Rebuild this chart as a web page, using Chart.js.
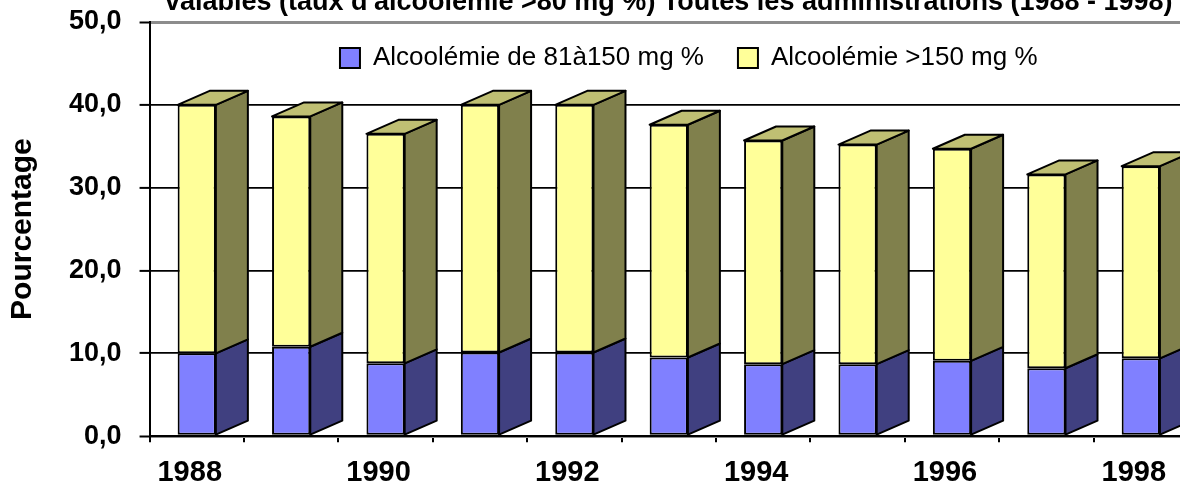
<!DOCTYPE html>
<html lang="fr">
<head>
<meta charset="utf-8">
<title>Alcoolémie 1988 - 1998</title>
<script src="https://cdn.jsdelivr.net/npm/chart.js@4.4.0/dist/chart.umd.min.js"></script>
<style>
  html, body { margin: 0; padding: 0; background: #fff; overflow: hidden; }
  /* the reference is a crop of a bigger chart: top and right run off the page */
  #wrap { position: absolute; left: 0; top: -50px; width: 1382px; height: 553px; }
</style>
</head>
<body>
<div id="wrap"><canvas id="chart"></canvas></div>
<script>
// Données
const annees = ["1988", "1989", "1990", "1991", "1992", "1993", "1994", "1995", "1996", "1997", "1998"];
const taux81a150 = [10.0, 10.8, 8.8, 10.1, 10.1, 9.5, 8.7, 8.7, 9.1, 8.2, 9.4];
const tauxPlus150 = [30.0, 27.8, 27.7, 29.9, 29.9, 28.1, 27.0, 26.5, 25.6, 23.4, 23.2];
const yTicks = [0, 10, 20, 30, 40, 50];
const titre = [
  "Pourcentage de conducteurs mortellement blessés ayant des résultats",
  "valables (taux d'alcoolémie >80 mg %) Toutes les administrations (1988 - 1998)"
];

const police = "'Liberation Sans', Arial, sans-serif";
const profX = 32, profY = 14; // profondeur 3D
const couleursCote = ["#404080", "#80804c"];
const couleurDessus = "#bfbf73";

// faces de côté et de dessus des barres (effet 3D)
const barres3d = {
  id: "barres3d",
  afterDatasetsDraw(chart) {
    const ctx = chart.ctx;
    const n = chart.data.datasets.length;
    ctx.save();
    ctx.lineWidth = 2;
    ctx.strokeStyle = "#000";
    ctx.lineJoin = "round";
    chart.data.datasets.forEach((ds, di) => {
      chart.getDatasetMeta(di).data.forEach(bar => {
        const { x, y, base, width } = bar.getProps(["x", "y", "base", "width"], true);
        const g = x - width / 2, d = x + width / 2;
        ctx.beginPath();
        ctx.moveTo(d, y);
        ctx.lineTo(d + profX, y - profY);
        ctx.lineTo(d + profX, base - profY);
        ctx.lineTo(d, base);
        ctx.closePath();
        ctx.fillStyle = couleursCote[di];
        ctx.fill();
        ctx.stroke();
        if (di === n - 1) {
          ctx.beginPath();
          ctx.moveTo(g, y);
          ctx.lineTo(g + profX, y - profY);
          ctx.lineTo(d + profX, y - profY);
          ctx.lineTo(d, y);
          ctx.closePath();
          ctx.fillStyle = couleurDessus;
          ctx.fill();
          ctx.stroke();
        }
      });
    });
    ctx.restore();
  }
};

// légende posée dans la zone du graphique
const decalLegende = { x: 20, y: -11 };
const legendeDedans = {
  id: "legendeDedans",
  beforeLayout(chart) {
    const lg = chart.legend;
    if (lg && !lg._dedans) {
      const fit = lg.fit;
      lg.fit = function () {
        fit.call(this);
        this._vraieHauteur = this.height;
        this.height = 0;
      };
      lg._dedans = true;
    }
  },
  afterLayout(chart) {
    const lg = chart.legend;
    lg.top += decalLegende.y;
    lg.left += decalLegende.x;
    lg.right += decalLegende.x;
    lg.height = lg._vraieHauteur;
    lg.bottom = lg.top + lg.height;
  }
};

new Chart(document.getElementById("chart"), {
  type: "bar",
  data: {
    labels: annees,
    datasets: [
      {
        label: "Alcoolémie de 81à150 mg %",
        data: taux81a150,
        backgroundColor: "#8080ff",
        borderColor: "#000",
        borderWidth: 2,
        borderSkipped: false
      },
      {
        label: "Alcoolémie >150 mg %",
        data: tauxPlus150,
        backgroundColor: "#ffff99",
        borderColor: "#000",
        borderWidth: 2,
        borderSkipped: false
      }
    ]
  },
  options: {
    responsive: true,
    maintainAspectRatio: false,
    animation: false,
    layout: { padding: { left: 4, right: 194, top: 0, bottom: 0 } },
    datasets: { bar: { categoryPercentage: 1, barPercentage: 0.405 } },
    plugins: {
      title: {
        display: true,
        fullSize: false,
        text: titre,
        color: "#000",
        font: { family: police, size: 27, weight: "bold" },
        padding: { top: 3.5, bottom: 3.7 }
      },
      legend: {
        position: "top",
        fullSize: false,
        labels: {
          color: "#000",
          font: { family: police, size: 26 },
          boxWidth: 20,
          boxHeight: 20,
          padding: 34
        }
      },
      tooltip: { enabled: false }
    },
    scales: {
      x: {
        stacked: true,
        border: { color: "#000", width: 2 },
        grid: { drawOnChartArea: false, color: "#000", lineWidth: 2, tickLength: 6 },
        ticks: {
          color: "#000",
          font: { family: police, size: 29, weight: "bold" },
          autoSkip: false,
          maxRotation: 0,
          padding: 13,
          labelOffset: -7,
          callback: (v, i) => (i % 2 === 0 ? annees[i] : "")
        }
      },
      y: {
        stacked: true,
        min: 0,
        max: 50,
        afterBuildTicks: axis => { axis.ticks = yTicks.map(v => ({ value: v })); },
        border: { color: "#000", width: 2 },
        grid: {
          color: c => (c.tick && (c.tick.value === 0 || c.tick.value === 50) ? "#8c8c8c" : "#000"),
          lineWidth: c => (c.tick && (c.tick.value === 0 || c.tick.value === 50) ? 3 : 1.8),
          tickColor: "#000",
          tickWidth: 2,
          tickLength: 10
        },
        ticks: {
          color: "#000",
          font: { family: police, size: 27, weight: "bold" },
          padding: 18,
          callback: v => v.toFixed(1).replace(".", ",")
        },
        title: {
          display: true,
          text: "Pourcentage",
          color: "#000",
          font: { family: police, size: 30, weight: "bold" },
          padding: { top: 1, bottom: 10 }
        }
      }
    }
  },
  plugins: [barres3d, legendeDedans]
});
</script>
</body>
</html>
